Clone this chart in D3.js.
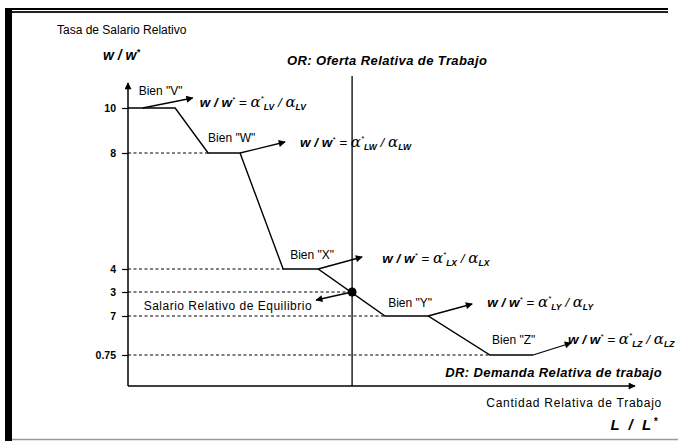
<!DOCTYPE html>
<html>
<head>
<meta charset="utf-8">
<script src="https://cdn.jsdelivr.net/npm/d3@7"></script>
<style>
  body { margin: 0; background: #fff; }
  svg { display: block; }
  text { font-family: "Liberation Sans", Arial, sans-serif; fill: #000; }
  .lbl { font-size: 12px; }
  .bi { font-weight: bold; font-style: italic; }
  .frm { font-style: italic; font-size: 13.5px; }
</style>
</head>
<body>
<div id="chart"></div>
<script>
// ----- niveles de salario relativo (eje y) y sus etiquetas
var levels = [10, 8, 4, 3, 2, 0.75];
var tickLabels = ["10", "8", "4", "3", "7", "0.75"];

// ----- bienes y curva de demanda relativa (escalones)
var goods = ["V", "W", "X", "Y", "Z"];
var demandX = [0, 9.3, 15.8, 22.1, 30.6, 37.5, 50.7, 59.2, 71.4, 79.9];
var demandY = [10, 10, 8, 8, 4, 4, 2, 2, 0.75, 0.75];

// ----- extremo derecho de cada escalon (donde nace la flecha)
var stepEndX = [2.9, 22.1, 37.5, 59.2, 79.9];
var stepEndY = [10, 8, 4, 2, 0.75];

// ----- oferta relativa y equilibrio
var supplyX = 44.2;
var eqX = 44.2;
var eqY = 3;

var w = 678;
var h = 441;

var svg = d3.select('#chart').append('svg').attr('width', w).attr('height', h);

// ----- escalas (y no lineal: tramos entre los niveles)
var x = d3.scaleLinear().domain([0, 100]).range([128, 635]);
var y = d3.scaleLinear()
    .domain([0, 0.75, 2, 3, 4, 8, 10, 11])
    .range([386, 355, 316, 292, 269, 153, 108, 83]);

// ----- marco del recuadro
svg.append('rect').attr('x', 5).attr('y', 8).attr('width', 7).attr('height', 433).attr('fill', '#000');
svg.append('rect').attr('x', 5).attr('y', 8).attr('width', 663).attr('height', 2).attr('fill', '#000');
svg.append('rect').attr('x', 12).attr('y', 11).attr('width', 656).attr('height', 2).attr('fill', '#222');
svg.append('line').attr('x1', 12).attr('x2', 678).attr('y1', 439.5).attr('y2', 439.5)
    .attr('stroke', '#999').attr('stroke-width', 1.5);

// ----- marcador de flecha
var defs = svg.append('defs');
defs.append('marker')
    .attr('id', 'arr')
    .attr('viewBox', '0 0 10 10')
    .attr('refX', 9).attr('refY', 5)
    .attr('markerWidth', 9).attr('markerHeight', 7)
    .attr('markerUnits', 'userSpaceOnUse')
    .attr('orient', 'auto')
    .append('path').attr('d', 'M0,0L10,5L0,10z').attr('fill', '#000');

// ----- lineas punteadas de cada nivel
var dashEnds = [0, 15.8, 30.6, eqX, 50.7, 71.4];
svg.append('g').selectAll('line').data(levels).enter().append('line')
    .attr('x1', x(0))
    .attr('x2', function (d, i) { return x(dashEnds[i]); })
    .attr('y1', function (d) { return y(d); })
    .attr('y2', function (d) { return y(d); })
    .attr('stroke', '#000')
    .attr('stroke-width', 1)
    .attr('stroke-dasharray', '3,2.5')
    .attr('opacity', function (d, i) { return i == 0 ? 0 : 1; });

// ----- ejes
var yAxis = d3.axisLeft(y).tickValues(levels)
    .tickFormat(function (d, i) { return tickLabels[i]; })
    .tickSize(6).tickPadding(6);
var gy = svg.append('g').attr('transform', 'translate(' + x(0) + ',0)').call(yAxis);
gy.select('.domain').remove();
gy.selectAll('.tick line').attr('stroke', '#000').attr('stroke-width', 1.2);
gy.selectAll('.tick text')
    .attr('font-family', '"Liberation Sans", Arial, sans-serif')
    .attr('font-size', 10.5).attr('font-weight', 'bold').attr('fill', '#000');

svg.append('line')
    .attr('x1', x(0)).attr('x2', x(0))
    .attr('y1', y(0)).attr('y2', y(11))
    .attr('stroke', '#000').attr('stroke-width', 1.5)
    .attr('marker-end', 'url(#arr)');
svg.append('line')
    .attr('x1', x(0)).attr('x2', x(100))
    .attr('y1', y(0)).attr('y2', y(0))
    .attr('stroke', '#000').attr('stroke-width', 1.5)
    .attr('marker-end', 'url(#arr)');

// ----- oferta relativa (vertical)
svg.append('line')
    .attr('x1', x(supplyX)).attr('x2', x(supplyX))
    .attr('y1', y(0)).attr('y2', 76)
    .attr('stroke', '#000').attr('stroke-width', 1.3);

// ----- demanda relativa
var demand = demandX.map(function (d, i) { return [d, demandY[i]]; });
svg.append('path')
    .datum(demand)
    .attr('d', d3.line().x(function (d) { return x(d[0]); }).y(function (d) { return y(d[1]); }))
    .attr('fill', 'none').attr('stroke', '#000').attr('stroke-width', 1.4);

// ----- equilibrio
svg.append('circle').attr('cx', x(eqX)).attr('cy', y(eqY)).attr('r', 4.5).attr('fill', '#000');

// ----- flechas y textos de cada bien (desplazamientos en px)
var arrowDx = [50, 45, 44, 44, 38];
var arrowDy = [-10, -11, -12, -12, -12];
var labelDx = [-4, -32, -28, -40, -41];
var labelDy = [-17, -15, -14, -13, -15];
var formDx = [57, 60, 64, 59, 35];
var formDy = [-6, -11, -11, -14, -16];

var ann = svg.append('g').selectAll('g').data(goods).enter().append('g')
    .attr('transform', function (d, i) {
        return 'translate(' + x(stepEndX[i]) + ',' + y(stepEndY[i]) + ')';
    });

ann.append('line')
    .attr('x1', 0).attr('y1', 0)
    .attr('x2', function (d, i) { return arrowDx[i]; })
    .attr('y2', function (d, i) { return arrowDy[i]; })
    .attr('stroke', '#000').attr('stroke-width', 1.3)
    .attr('marker-end', 'url(#arr)');

ann.append('text')
    .attr('class', 'lbl')
    .attr('x', function (d, i) { return labelDx[i]; })
    .attr('y', function (d, i) { return labelDy[i]; })
    .attr('dy', '0.35em')
    .text(function (d) { return 'Bien "' + d + '"'; });

// formula w/w* = a*L / aL con super y subindices (dy en px)
var f = ann.append('text')
    .attr('class', 'frm')
    .attr('x', function (d, i) { return formDx[i]; })
    .attr('y', function (d, i) { return formDy[i] + 5; });
f.append('tspan').attr('font-weight', 'bold').text('w / w');
f.append('tspan').attr('font-size', 8).attr('dy', -5).text('*');
f.append('tspan').attr('dy', 5).text(' = ');
f.append('tspan').attr('font-family', '"DejaVu Serif", serif').attr('font-size', 15).text('α');
f.append('tspan').attr('font-size', 8).attr('dy', -6).text('*');
f.append('tspan').attr('font-size', 8.5).attr('dy', 9).attr('font-weight', 'bold').text(function (d) { return 'L' + d; });
f.append('tspan').attr('dy', -3).text(' / ');
f.append('tspan').attr('font-family', '"DejaVu Serif", serif').attr('font-size', 15).text('α');
f.append('tspan').attr('font-size', 8.5).attr('dy', 3).attr('font-weight', 'bold').text(function (d) { return 'L' + d; });

// ----- equilibrio: flecha y texto
svg.append('line')
    .attr('x1', x(eqX)).attr('y1', y(eqY))
    .attr('x2', x(eqX) - 36).attr('y2', y(eqY) + 8)
    .attr('stroke', '#000').attr('stroke-width', 1.3)
    .attr('marker-end', 'url(#arr)');
svg.append('text').attr('class', 'lbl')
    .attr('x', x(eqX) - 40).attr('y', y(eqY) + 14).attr('dy', '0.35em')
    .attr('text-anchor', 'end').attr('letter-spacing', 0.5)
    .text('Salario Relativo de Equilibrio');

// ----- titulos de los ejes y curvas
svg.append('text').attr('class', 'lbl').attr('x', 57).attr('y', 30).attr('dy', '0.35em')
    .attr('font-size', 12.5).text('Tasa de Salario Relativo');
var wt = svg.append('text').attr('class', 'bi').attr('x', 103).attr('y', 60).attr('font-size', 14);
wt.append('tspan').text('w / w');
wt.append('tspan').attr('font-size', 9).attr('dy', -5).text('*');
svg.append('text').attr('class', 'bi').attr('x', 287).attr('y', 60).attr('dy', '0.35em')
    .attr('font-size', 13).attr('letter-spacing', 0.4).text('OR: Oferta Relativa de Trabajo');
svg.append('text').attr('class', 'bi').attr('x', 662).attr('y', 372).attr('dy', '0.35em')
    .attr('text-anchor', 'end').attr('font-size', 13).attr('letter-spacing', 0.4)
    .text('DR: Demanda Relativa de trabajo');
svg.append('text').attr('class', 'lbl').attr('x', 662).attr('y', 403).attr('dy', '0.35em')
    .attr('text-anchor', 'end').attr('letter-spacing', 0.75).text('Cantidad Relativa de Trabajo');
var lt = svg.append('text').attr('class', 'bi').attr('x', 660).attr('y', 430)
    .attr('text-anchor', 'end').attr('font-size', 15).attr('letter-spacing', 2.5);
lt.append('tspan').text('L / L');
lt.append('tspan').attr('font-size', 10).attr('dy', -5).text('*');
</script>
</body>
</html>
